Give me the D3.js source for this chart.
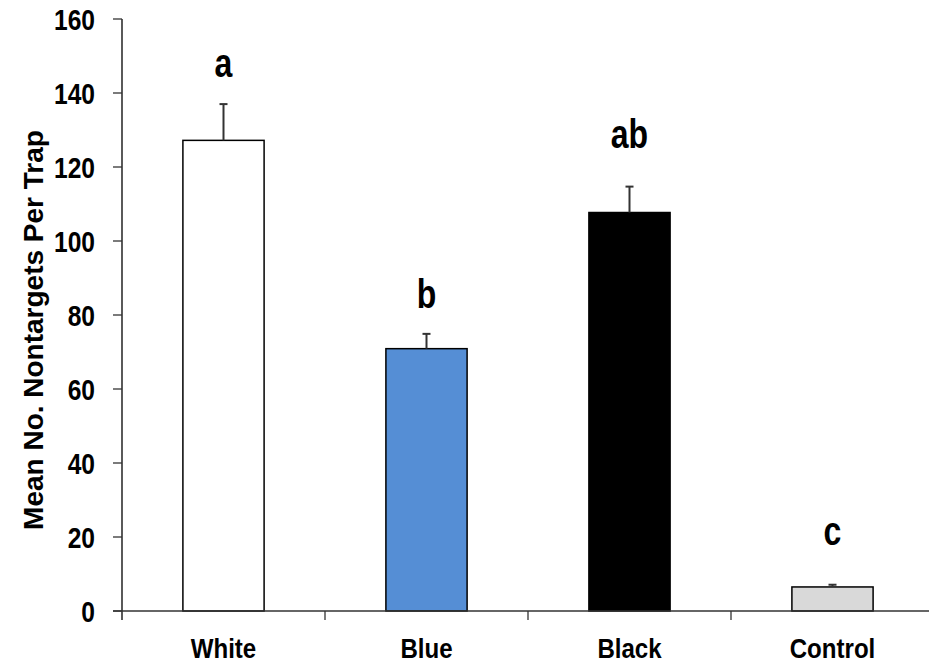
<!DOCTYPE html>
<html>
<head>
<meta charset="utf-8">
<script src="https://cdn.jsdelivr.net/npm/d3@7"></script>
<style>
body { margin: 0; background: #fff; }
svg { font-family: "Liberation Sans", Arial, sans-serif; }
</style>
</head>
<body>
<svg id="chart" width="929" height="665"></svg>
<script>
var categories = ['White', 'Blue', 'Black', 'Control'];
var means = [127.2, 70.9, 107.7, 6.5];
var errors = [9.8, 4.0, 7.0, 0.6];
var letters = ['a', 'b', 'ab', 'c'];
var letterLevels = [144.3, 81.9, 125.1, 17.8];
var fills = ['#ffffff', '#558ed5', '#000000', '#d9d9d9'];
var yTicks = [0, 20, 40, 60, 80, 100, 120, 140, 160];

var svg = d3.select('#chart');
const LEFT = 122, RIGHT = 934, TOP = 19, BOTTOM = 611;

var x = d3.scaleBand().domain(categories).range([LEFT, RIGHT])
    .paddingInner(0.6).paddingOuter(0.3);
var y = d3.scaleLinear().domain([0, 160]).range([BOTTOM, TOP]);
var mid = d => x(d) + x.bandwidth() / 2;

// bars
svg.selectAll('rect.bar').data(categories).enter().append('rect')
    .attr('class', 'bar')
    .attr('x', d => x(d))
    .attr('y', (d, i) => y(means[i]))
    .attr('width', x.bandwidth())
    .attr('height', (d, i) => y(0) - y(means[i]))
    .attr('fill', (d, i) => fills[i])
    .attr('stroke', '#000')
    .attr('stroke-width', 1.5);

// error bars (upper only)
var eb = svg.selectAll('g.err').data(categories).enter().append('g')
    .attr('stroke', '#333').attr('stroke-width', 2);
eb.append('line')
    .attr('x1', mid).attr('x2', mid)
    .attr('y1', (d, i) => y(means[i]))
    .attr('y2', (d, i) => y(means[i] + errors[i]));
eb.append('line')
    .attr('x1', d => mid(d) - 4).attr('x2', d => mid(d) + 4)
    .attr('y1', (d, i) => y(means[i] + errors[i]))
    .attr('y2', (d, i) => y(means[i] + errors[i]));

// significance letters
svg.selectAll('text.letter').data(letters).enter().append('text')
    .attr('class', 'letter')
    .attr('transform', (d, i) => 'translate(' + mid(categories[i]) + ',' + y(letterLevels[i]) + ') scale(0.8,1)')
    .attr('text-anchor', 'middle')
    .attr('font-size', 40)
    .attr('font-weight', 'bold')
    .text(d => d);

// y axis
svg.append('line').attr('x1', LEFT).attr('x2', LEFT)
    .attr('y1', TOP).attr('y2', BOTTOM + 9)
    .attr('stroke', '#000').attr('stroke-width', 1.3);
svg.selectAll('line.ytick').data(yTicks).enter().append('line')
    .attr('x1', LEFT - 9).attr('x2', LEFT)
    .attr('y1', d => y(d)).attr('y2', d => y(d))
    .attr('stroke', '#333').attr('stroke-width', 1.3);
svg.selectAll('text.ylab').data(yTicks).enter().append('text')
    .attr('transform', d => 'translate(95,' + (y(d) + 11) + ') scale(0.82,1)')
    .attr('text-anchor', 'end')
    .attr('font-size', 30)
    .attr('font-weight', 'bold')
    .text(d => d);

// x axis
svg.append('line').attr('x1', LEFT - 9).attr('x2', 929)
    .attr('y1', BOTTOM).attr('y2', BOTTOM)
    .attr('stroke', '#333').attr('stroke-width', 1.3);
var xt = categories.slice(1).map(c => x(c) - x.step() * x.paddingInner() / 2);
svg.selectAll('line.xtick').data(xt).enter().append('line')
    .attr('x1', d => d).attr('x2', d => d)
    .attr('y1', BOTTOM).attr('y2', BOTTOM + 9)
    .attr('stroke', '#333').attr('stroke-width', 1.3);
svg.selectAll('text.xlab').data(categories).enter().append('text')
    .attr('transform', d => 'translate(' + mid(d) + ',658) scale(0.86,1)')
    .attr('text-anchor', 'middle')
    .attr('font-size', 28)
    .attr('font-weight', 'bold')
    .text(d => d);

// y axis title
svg.append('text')
    .attr('transform', 'translate(43,330) rotate(-90)')
    .attr('text-anchor', 'middle')
    .attr('font-size', 28)
    .attr('font-weight', 'bold')
    .text('Mean No. Nontargets Per Trap');
</script>
</body>
</html>
